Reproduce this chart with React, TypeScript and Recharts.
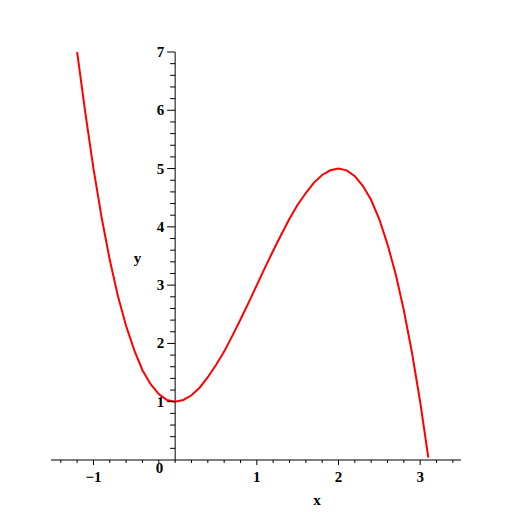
import { LineChart, Line, XAxis, YAxis, ReferenceLine, ReferenceDot } from "recharts";

// curve samples
const X_VALUES = [
    -1.2, -1.1, -1.0, -0.9, -0.8, -0.7, -0.6, -0.5, -0.4, -0.3, -0.2, -0.1,
    0.0, 0.1, 0.2, 0.3, 0.4, 0.5, 0.6, 0.7, 0.8, 0.9, 1.0, 1.1, 1.2, 1.3,
    1.4, 1.5, 1.6, 1.7, 1.8, 1.9, 2.0, 2.1, 2.2, 2.3, 2.4, 2.5, 2.6, 2.7,
    2.8, 2.9, 3.0, 3.1,
];
const Y_VALUES = [
    7.0, 5.96, 5.0, 4.16, 3.43, 2.81, 2.3, 1.88, 1.54, 1.3, 1.13, 1.03,
    1.0, 1.03, 1.11, 1.24, 1.42, 1.63, 1.86, 2.13, 2.41, 2.7, 3.0, 3.3, 3.59, 3.87,
    4.14, 4.38, 4.58, 4.76, 4.89, 4.97, 5.0, 4.97, 4.87, 4.7, 4.46, 4.13, 3.7, 3.19,
    2.57, 1.84, 1.0, 0.04,
];

const X_MAJOR = [-1, 1, 2, 3];
const X_MAJOR_LABELS = ["\u22121", "1", "2", "3"];
const X_MINOR = [-1.4, -1.2, -0.8, -0.6, -0.4, -0.2, 0, 0.2, 0.4, 0.6, 0.8, 1.2, 1.4, 1.6, 1.8, 2.2, 2.4, 2.6, 2.8, 3.2, 3.4];
const Y_MAJOR = [1, 2, 3, 4, 5, 6, 7];
const Y_MAJOR_LABELS = ["1", "2", "3", "4", "5", "6", "7"];

const X_DOMAIN = [-1.52, 3.5];
const Y_DOMAIN = [0, 7];

const FONT = "'Liberation Serif', 'DejaVu Serif', serif";

const data = X_VALUES.map((x, i) => ({ x, y: Y_VALUES[i] }));
const xTicks = [...X_MAJOR, ...X_MINOR].sort((a, b) => a - b);

const yMinor: number[] = [];
for (let i = 1; i < 35; i++) {
    if (i % 5 !== 0) yMinor.push(Math.round(i * 2) / 10);
}

function XTick(props: any) {
    const { x, y, payload } = props;
    const idx = X_MAJOR.indexOf(payload.value);
    const major = idx >= 0;
    return (
        <g>
            <line x1={x} y1={y} x2={x} y2={y + (major ? 5 : 3)} stroke="#000" />
            {major && (
                <text x={x} y={y + 22} textAnchor="middle" fontFamily={FONT} fontSize={15} fontWeight="bold" fill="#000">
                    {X_MAJOR_LABELS[idx]}
                </text>
            )}
        </g>
    );
}

function yTickShape(len: number, label?: string) {
    return (p: any) => (
        <g>
            <line x1={p.cx - len} y1={p.cy} x2={p.cx} y2={p.cy} stroke="#000" />
            {label && (
                <text x={p.cx - 11} y={p.cy + 5} textAnchor="end" fontFamily={FONT} fontSize={15} fontWeight="bold" fill="#000">
                    {label}
                </text>
            )}
        </g>
    );
}

function originLabel(p: any) {
    return (
        <text x={p.cx - 12} y={p.cy + 13} textAnchor="end" fontFamily={FONT} fontSize={15} fontWeight="bold" fill="#000">
            0
        </text>
    );
}

export default function App() {
    return (
        <div style={{ position: "absolute", left: 0, top: 0, background: "#fff" }}>
            <LineChart
                width={512}
                height={512}
                data={data}
                margin={{ top: 52, right: 51, left: 51, bottom: 22 }}
            >
                <XAxis
                    dataKey="x"
                    type="number"
                    domain={X_DOMAIN}
                    allowDataOverflow
                    ticks={xTicks}
                    interval={0}
                    tickSize={0}
                    tickMargin={0}
                    tickLine={false}
                    tick={<XTick />}
                    stroke="#000"
                    height={30}
                    label={{ value: "x", position: "center", dx: 61, dy: 25, fontFamily: FONT, fontSize: 15, fontWeight: "bold", fill: "#000" }}
                />
                <YAxis type="number" domain={Y_DOMAIN} allowDataOverflow hide />
                <ReferenceLine
                    x={0}
                    stroke="#000"
                    label={{ value: "y", position: "left", offset: 34, fontFamily: FONT, fontSize: 15, fontWeight: "bold", fill: "#000", dy: 2 }}
                />
                {yMinor.map((v) => (
                    <ReferenceDot key={"m" + v} x={0} y={v} r={0} shape={yTickShape(5)} />
                ))}
                {Y_MAJOR.map((v, i) => (
                    <ReferenceDot key={"M" + v} x={0} y={v} r={0} shape={yTickShape(8, Y_MAJOR_LABELS[i])} />
                ))}
                <ReferenceDot x={0} y={0} r={0} shape={originLabel} />
                <Line
                    dataKey="y"
                    type="linear"
                    stroke="#ff0000"
                    strokeWidth={2}
                    dot={false}
                    isAnimationActive={false}
                />
            </LineChart>
        </div>
    );
}
